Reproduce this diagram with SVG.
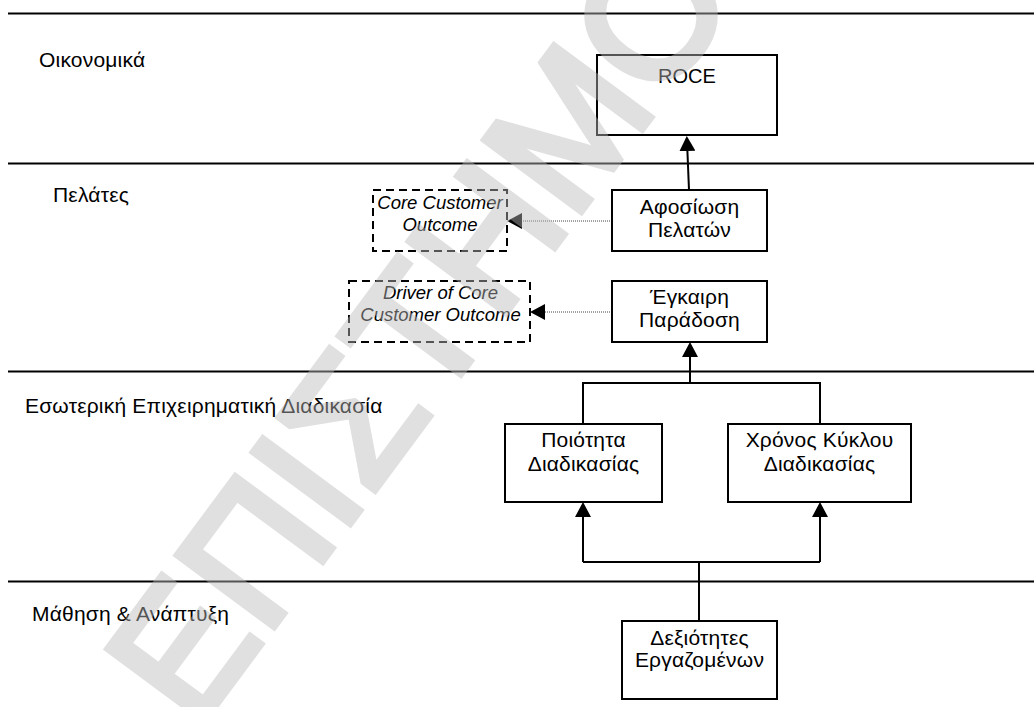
<svg xmlns="http://www.w3.org/2000/svg" width="1034" height="707" viewBox="0 0 1034 707">
  <style>
    .lane { stroke: #000; stroke-width: 2; }
    .box { fill: #fff; stroke: #000; stroke-width: 2; }
    .dbox { fill: #fff; stroke: #000; stroke-width: 2; stroke-dasharray: 8 5; }
    .lbl { font-family: "Liberation Sans", Arial, sans-serif; font-size: 21px; letter-spacing: 0.2px; fill: #000; }
    .roce { font-family: "Liberation Sans", Arial, sans-serif; font-size: 20px; fill: #000; }
    .c { text-anchor: middle; }
    .it { font-family: "Liberation Sans", Arial, sans-serif; font-size: 18.5px; font-style: italic; fill: #000; text-anchor: middle; }
    .link { fill: none; stroke: #000; stroke-width: 2; }
    .dot { fill: none; stroke: #444; stroke-width: 1; stroke-dasharray: 1 1; }
    .wm { font-family: "Liberation Sans", Arial, sans-serif; font-size: 175px; fill: #bbb; stroke: #bbb; stroke-width: 7; stroke-linejoin: miter; }
  </style>
  <defs>
    <marker id="arrow" viewBox="0 0 15 16" refX="5" refY="8" markerWidth="15" markerHeight="16" markerUnits="userSpaceOnUse" orient="auto">
      <path d="M0,0 L15,8 L0,16 z" fill="#000"/>
    </marker>
  </defs>

  <rect width="1034" height="707" fill="#fff"/>

  <!-- perspective lanes -->
  <g id="lanes">
    <line class="lane" x1="8" y1="13.5" x2="1034" y2="13.5"/>
    <line class="lane" x1="8" y1="163.5" x2="1034" y2="163.5"/>
    <line class="lane" x1="8" y1="371.5" x2="1034" y2="371.5"/>
    <line class="lane" x1="8" y1="581.5" x2="1034" y2="581.5"/>
    <text class="lbl" x="39" y="67">Οικονομικά</text>
    <text class="lbl" x="53" y="202">Πελάτες</text>
    <text class="lbl" x="25" y="413">Εσωτερική Επιχειρηματική Διαδικασία</text>
    <text class="lbl" x="32" y="621">Μάθηση &amp; Ανάπτυξη</text>
  </g>

  <!-- connectors -->
  <g id="connectors">
    <path class="link" d="M689,190 L687.2,146" marker-end="url(#arrow)"/>
    <path class="link" d="M583,424 V383 H820 V424"/>
    <path class="link" d="M690,383 V352" marker-end="url(#arrow)"/>
    <path class="link" d="M699,621 V562"/>
    <path class="link" d="M583,562 H820"/>
    <path class="link" d="M583,562 V512" marker-end="url(#arrow)"/>
    <path class="link" d="M820,562 V512" marker-end="url(#arrow)"/>
    <path class="dot" d="M612,221 H517" marker-end="url(#arrow)"/>
    <path class="dot" d="M612,312 H540" marker-end="url(#arrow)"/>
  </g>

  <g id="roce">
    <rect class="box" x="597" y="55" width="180" height="80"/>
    <text class="roce c" x="687" y="83">ROCE</text>
  </g>
  <g id="customer-loyalty">
    <rect class="box" x="612" y="190" width="155" height="61"/>
    <text class="lbl c" x="689.5" y="214">Αφοσίωση</text>
    <text class="lbl c" x="689.5" y="237">Πελατών</text>
  </g>
  <g id="core-outcome">
    <rect class="dbox" x="373" y="190" width="134" height="61"/>
    <text class="it" x="440" y="209">Core Customer</text>
    <text class="it" x="440" y="231">Outcome</text>
  </g>
  <g id="on-time-delivery">
    <rect class="box" x="612" y="281" width="155" height="61"/>
    <text class="lbl c" x="689.5" y="304">Έγκαιρη</text>
    <text class="lbl c" x="689.5" y="327">Παράδοση</text>
  </g>
  <g id="driver-outcome">
    <rect class="dbox" x="349" y="281" width="181" height="61"/>
    <text class="it" x="440.5" y="299">Driver of Core</text>
    <text class="it" x="440.5" y="321">Customer Outcome</text>
  </g>
  <g id="process-quality">
    <rect class="box" x="505" y="424" width="157" height="78"/>
    <text class="lbl c" x="583.5" y="447">Ποιότητα</text>
    <text class="lbl c" x="583.5" y="471">Διαδικασίας</text>
  </g>
  <g id="cycle-time">
    <rect class="box" x="728" y="424" width="183" height="78"/>
    <text class="lbl c" x="819.5" y="447">Χρόνος Κύκλου</text>
    <text class="lbl c" x="819.5" y="471">Διαδικασίας</text>
  </g>
  <g id="employee-skills">
    <rect class="box" x="622" y="621" width="155" height="78"/>
    <text class="lbl c" x="699.5" y="645">Δεξιότητες</text>
    <text class="lbl c" x="699.5" y="667">Εργαζομένων</text>
  </g>

  <!-- watermark -->
  <g opacity="0.45">
    <text class="wm" x="196" y="732" transform="rotate(-53.5 196 732)">ΕΠΙΣΤΗΜΟ</text>
  </g>
</svg>
